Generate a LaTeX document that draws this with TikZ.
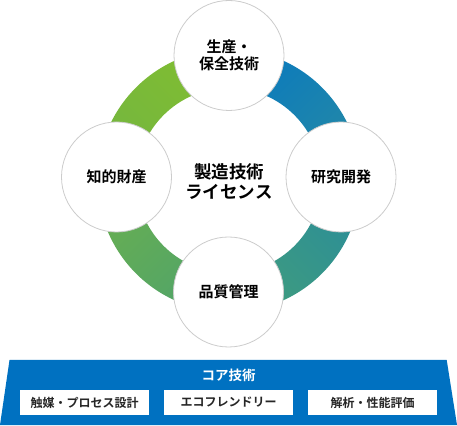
\documentclass[tikz,border=0pt]{standalone}
\usepackage{fontspec}
\setmainfont{Noto Sans CJK JP}[BoldFont={Noto Sans CJK JP Bold}]
\usetikzlibrary{calc}
\definecolor{coreblue}{HTML}{0071C1}
\definecolor{segA}{HTML}{80BD31}
\definecolor{segB}{HTML}{74B640}
\definecolor{segC}{HTML}{0B7ABD}
\definecolor{segD}{HTML}{2489A6}
\definecolor{segE}{HTML}{2C8E97}
\definecolor{segF}{HTML}{3F9C7E}
\definecolor{segG}{HTML}{67AE52}
\definecolor{segH}{HTML}{51A469}
\newcommand{\ringseg}[5]{\shade[top color=#3,bottom color=#4,shading angle=#5]
  ($(O)+(#1:131.5)$) arc(#1:#2:131.5) -- ($(O)+(#2:92.5)$) arc(#2:#1:92.5) -- cycle;}
\tikzset{bubble/.style={circle,minimum size=110pt,inner sep=0pt,fill=white,draw=black!20,
    line width=0.8pt,align=center,font=\bfseries\fontsize{15}{17}\selectfont},
  techbox/.style={fill=white,minimum width=129pt,minimum height=25pt,inner sep=0pt,
    font=\bfseries\fontsize{12}{14}\selectfont,text=black!85}}

\begin{document}
\begin{tikzpicture}[x=1pt,y=1pt]
\useasboundingbox (0,0) rectangle (457,425);
\coordinate (O) at (229,244.5);
\ringseg{90}{180}{segA}{segB}{-45}
\ringseg{0}{90}{segC}{segD}{45}
\ringseg{-90}{0}{segE}{segF}{-45}
\ringseg{180}{270}{segG}{segH}{45}
\node[bubble] (prod) at (229,369.5) {生産・\\保全技術};
\node[bubble] (ip) at (116.5,248) {知的財産};
\node[bubble] (rnd) at (341,248) {研究開発};
\node[bubble] (qc) at (228.5,133) {品質管理};
\node[align=center,font=\bfseries\fontsize{17.5}{20}\selectfont] (lic) at (229,243.5) {製造技術\\ライセンス};
\fill[coreblue] (0,0) -- (457,0) -- (446.7,65) -- (9.5,65) -- cycle;
\node[text=white,font=\bfseries\fontsize{13.5}{15}\selectfont] (core) at (228.5,50) {コア技術};
\node[techbox] (cat) at (84.5,22.5) {触媒・プロセス設計};
\node[techbox] (eco) at (228.5,22.5) {エコフレンドリー};
\node[techbox] (eval) at (372.5,22.5) {解析・性能評価};
\end{tikzpicture}
\end{document}
